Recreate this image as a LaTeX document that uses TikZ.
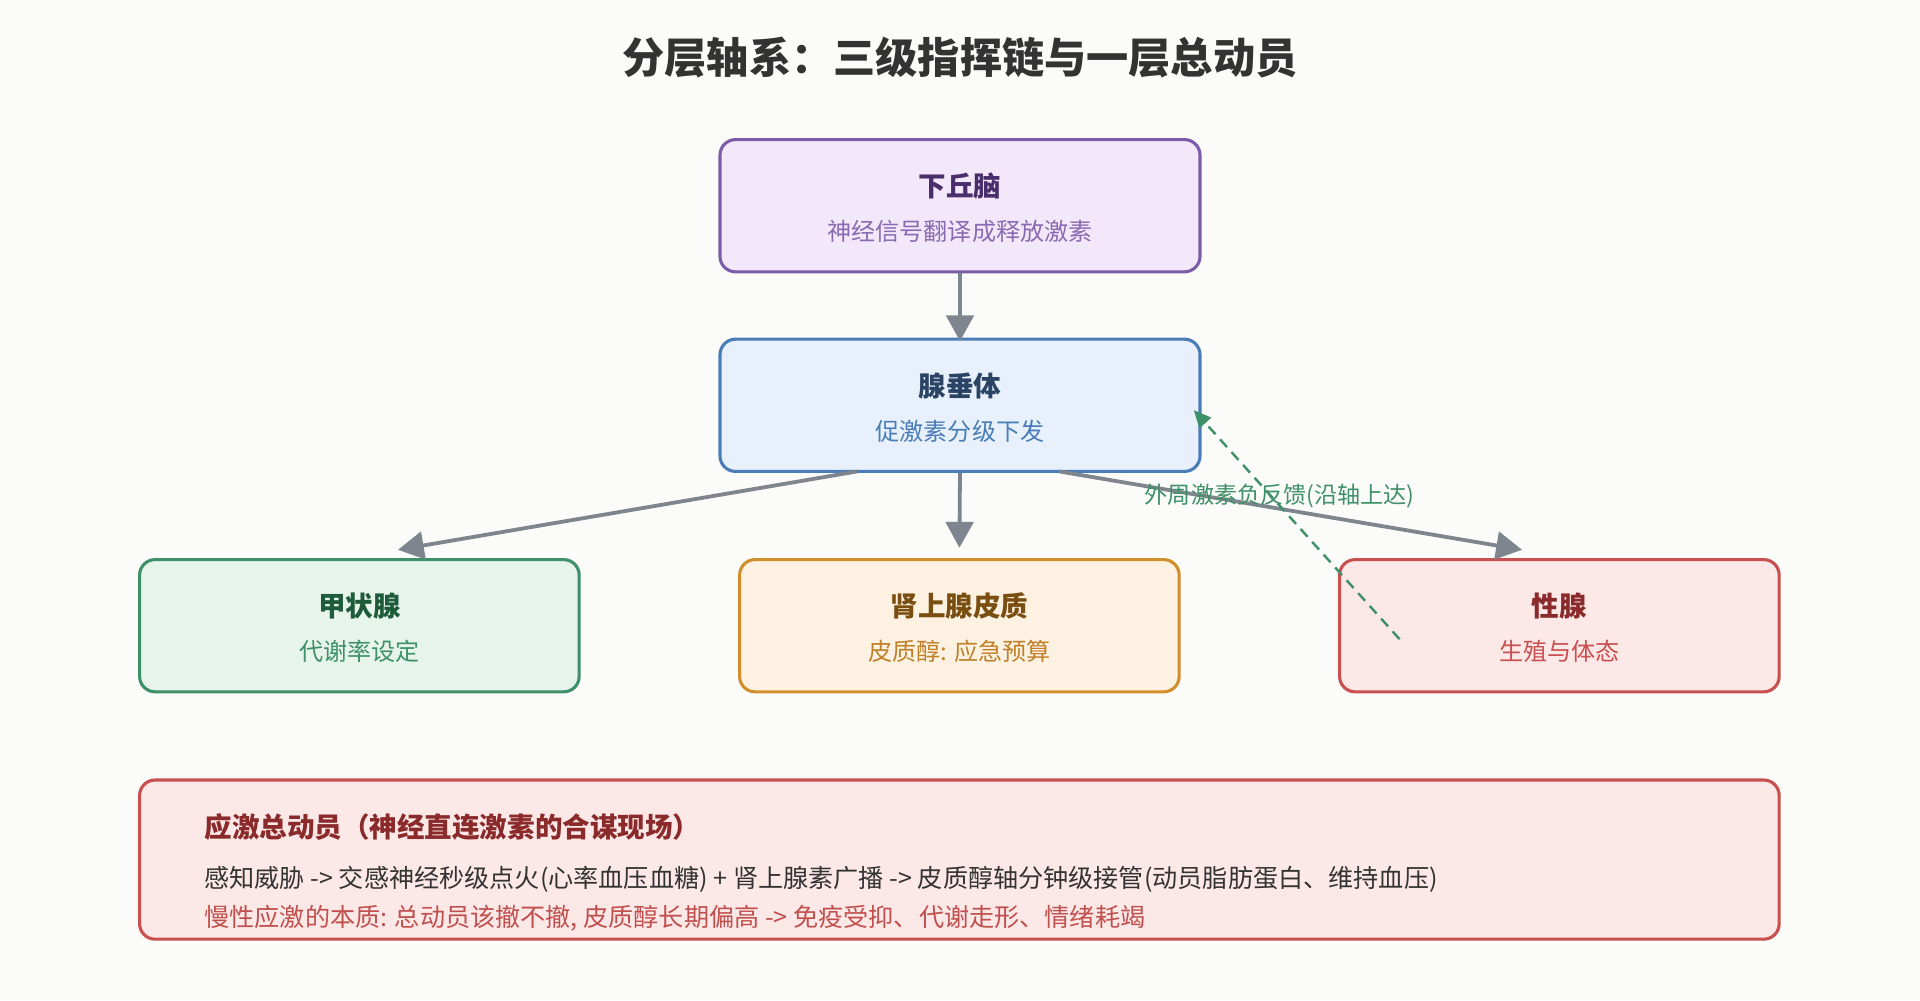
\documentclass[tikz,border=0pt]{standalone}
\usepackage{fontspec}
\setmainfont{Noto Sans CJK SC}
\usetikzlibrary{arrows.meta}
\definecolor{bg}{HTML}{FBFBF9}
\definecolor{arr}{HTML}{7F858F}
\definecolor{fb}{HTML}{3E9068}
\begin{document}
\begin{tikzpicture}[x=0.025cm,y=-0.025cm,
  box/.style={draw, line width=1.8pt, rounded corners=9pt, minimum height=108*0.025cm, inner sep=0pt},
  ttl/.style={font=\bfseries\fontsize{16}{19}\selectfont},
  sub/.style={font=\fontsize{14}{17}\selectfont},
  bot/.style={font=\fontsize{14.6}{17}\selectfont},
  ar/.style={draw=arr, line width=2.2pt, -{Triangle[length=15pt,width=16pt]}}]
\fill[bg] (0,0) rectangle (1568,817);
\useasboundingbox (0,0) rectangle (1568,817);
\node[font=\bfseries\fontsize{24.5}{28}\selectfont, text=black!80] (title) at (784,47) {分层轴系：三级指挥链与一层总动员};
% boxes
\node[box, draw={rgb,255:red,123;green,92;blue,168}, fill={rgb,255:red,243;green,232;blue,250}, minimum width=392*0.025cm] (hyp) at (784,168) {};
\node[box, draw={rgb,255:red,74;green,125;blue,184}, fill={rgb,255:red,232;green,241;blue,251}, minimum width=392*0.025cm] (pit) at (784,331) {};
\node[box, draw={rgb,255:red,62;green,144;blue,104}, fill={rgb,255:red,230;green,244;blue,236}, minimum width=359*0.025cm] (thy) at (293.5,511) {};
\node[box, draw={rgb,255:red,208;green,143;blue,42}, fill={rgb,255:red,253;green,242;blue,226}, minimum width=359*0.025cm] (adr) at (783.5,511) {};
\node[box, draw={rgb,255:red,200;green,80;blue,80}, fill={rgb,255:red,253;green,232;blue,232}, minimum width=359*0.025cm] (gon) at (1273.5,511) {};
\node[box, draw={rgb,255:red,200;green,80;blue,80}, fill={rgb,255:red,253;green,232;blue,232}, minimum width=1339*0.025cm, minimum height=130*0.025cm] (sum) at (783.5,702) {};
% texts
\node[ttl, text={rgb,255:red,74;green,45;blue,107}] (t1) at (784,152) {下丘脑};
\node[sub, text={rgb,255:red,138;green,106;blue,176}] (s1) at (784,189) {神经信号翻译成释放激素};
\node[ttl, text={rgb,255:red,43;green,68;blue,102}] (t2) at (784,315) {腺垂体};
\node[sub, text={rgb,255:red,74;green,125;blue,184}] (s2) at (784,352) {促激素分级下发};
\node[ttl, text={rgb,255:red,30;green,91;blue,58}] (t3) at (293.5,495) {甲状腺};
\node[sub, text={rgb,255:red,62;green,144;blue,104}] (s3) at (293.5,532) {代谢率设定};
\node[ttl, text={rgb,255:red,122;green,78;blue,16}] (t4) at (783.5,495) {肾上腺皮质};
\node[sub, text={rgb,255:red,192;green,128;blue,42}] (s4) at (783.5,532) {皮质醇: 应急预算};
\node[ttl, text={rgb,255:red,138;green,42;blue,42}] (t5) at (1273.5,495) {性腺};
\node[sub, text={rgb,255:red,200;green,80;blue,80}] (s5) at (1273.5,532) {生殖与体态};
\node[ttl, anchor=west, text={rgb,255:red,138;green,42;blue,42}] (b1) at (162,675) {应激总动员（神经直连激素的合谋现场）};
\node[bot, anchor=west, text=black!80] (b2) at (162,718) {感知威胁 -> 交感神经秒级点火(心率血压血糖) + 肾上腺素广播 -> 皮质醇轴分钟级接管(动员脂肪蛋白、维持血压)};
\node[bot, anchor=west, text={rgb,255:red,192;green,80;blue,77}] (b3) at (162,750) {慢性应激的本质: 总动员该撤不撤, 皮质醇长期偏高 -> 免疫受抑、代谢走形、情绪耗竭};
% arrows
\coordinate (p1) at (700,385); \coordinate (p3) at (865,385);
\coordinate (e1) at (325,449); \coordinate (e3) at (1243,449);
\draw[ar] (hyp.south) -- ([yshift=-2pt]pit.north);
\draw[ar] (p1) -- (e1);
\draw[ar] (pit.south) -- ([yshift=6pt]adr.north);
\draw[ar] (p3) -- (e3);
\coordinate (f0) at (1143,522); \coordinate (f1) at (975,335);
\draw[fb, line width=1.4pt, dash pattern=on 6pt off 4pt, -{Triangle[length=10pt,width=9pt]}] (f0) -- (f1);
\node[font=\fontsize{13.4}{16}\selectfont, text=fb] (fl) at (1045,405) {外周激素负反馈(沿轴上达)};
\end{tikzpicture}
\end{document}
